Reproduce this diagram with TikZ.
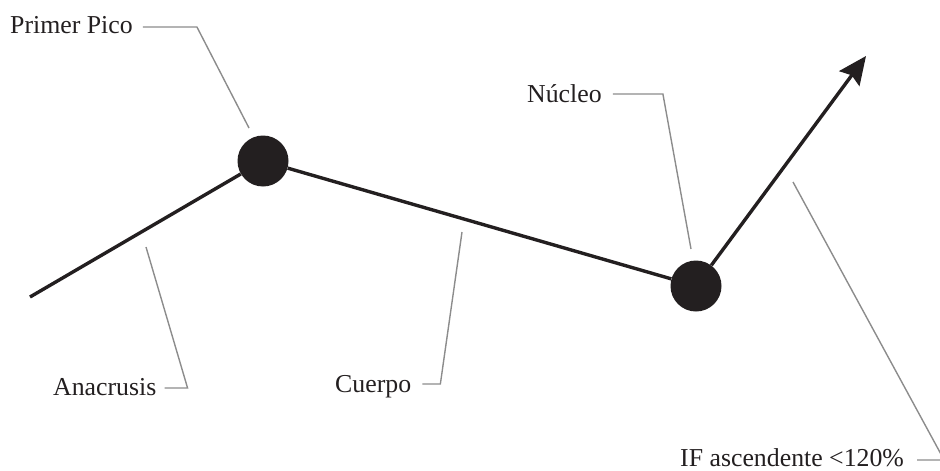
\documentclass[tikz,border=0pt]{standalone}
\usepackage{fontspec}
\setmainfont{Liberation Serif}
\usetikzlibrary{arrows.meta,calc}

\definecolor{ink}{HTML}{231F20}
\definecolor{leadgray}{HTML}{8C8C8C}

\begin{document}
\begin{tikzpicture}[x=1pt, y=-1pt, dot/.style={circle, fill=ink, inner sep=0pt, minimum size=51pt}, label/.style={anchor=base west, inner sep=0pt, font=\fontsize{25.8}{30}\selectfont, text=ink}, curve/.style={draw=ink, line width=3.4pt}, leader/.style={draw=leadgray, line width=1.4pt}]
        \useasboundingbox (0,0) rectangle (940,471);
        % melodic contour
        \coordinate (start) at (30,297);
        \node[dot] (pico) at (263,161) {};
        \node[dot] (nucleo) at (696,286) {};
        \coordinate (tip) at (866,56);
        \draw[curve] (start) -- (pico) -- (nucleo);
        \draw[curve, -{Stealth[length=28pt, width=25pt, inset=4pt]}] (nucleo) -- (tip);
        % labels
        \node[label] (lpico) at (10,33) {Primer Pico};
        \node[label] (lana) at (53,395) {Anacrusis};
        \node[label] (lcuerpo) at (335,392) {Cuerpo};
        \node[label] (lnucleo) at (527,102) {Núcleo};
        \node[label] (lif) at (680,466) {IF ascendente <120\%};
        % leader ends
        \coordinate (epico) at (249,128);
        \coordinate (eana) at (146,247);
        \coordinate (ecuerpo) at (462,232);
        \coordinate (enucleo) at (691,249);
        \coordinate (eif) at (793,182);
        \draw[leader] ([xshift=10pt,yshift=6pt]lpico.base east) -- ++(54,0) -- (epico);
        \draw[leader] ([xshift=8pt,yshift=7pt]lana.base east) -- ++(23,0) -- (eana);
        \draw[leader] ([xshift=11pt,yshift=8pt]lcuerpo.base east) -- ++(18,0) -- (ecuerpo);
        \draw[leader] ([xshift=11pt,yshift=8pt]lnucleo.base east) -- ++(50,0) -- (enucleo);
        \draw[leader] ([xshift=13pt,yshift=6pt]lif.base east) -- ++(27,0) -- (eif);
    \end{tikzpicture}
\end{document}
